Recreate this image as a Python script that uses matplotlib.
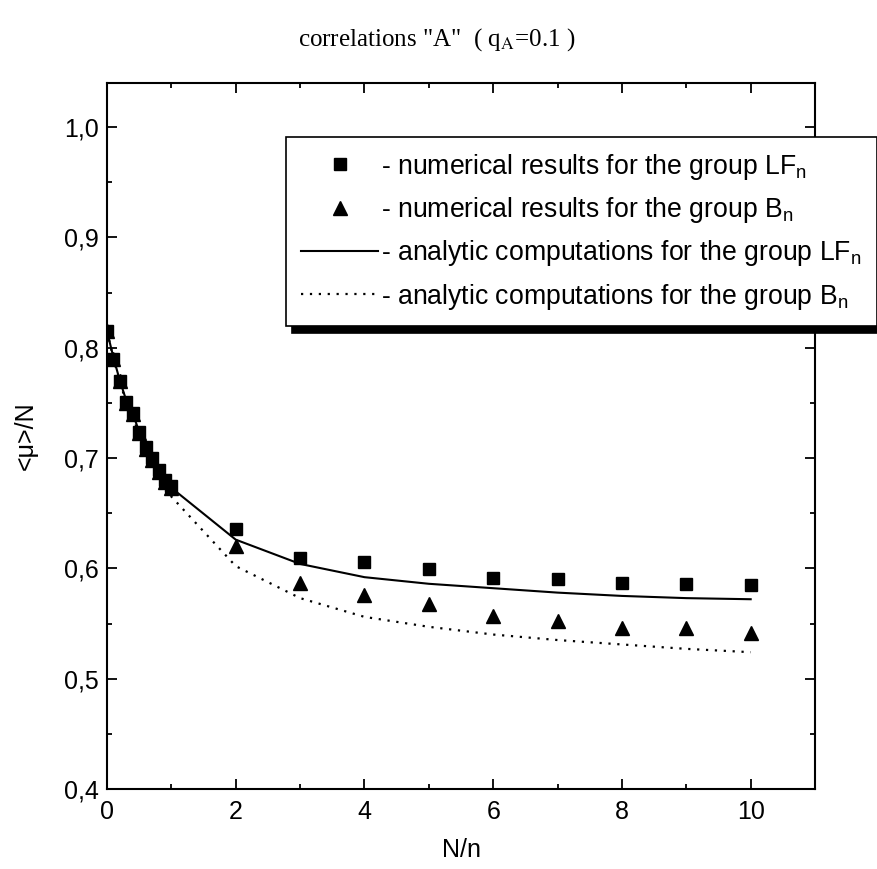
import matplotlib
matplotlib.use("Agg")
import matplotlib.pyplot as plt
from matplotlib.ticker import MultipleLocator, FuncFormatter

# ---- data ----
x_pts = [0, 0.1, 0.2, 0.3, 0.4, 0.5, 0.6, 0.7, 0.8, 0.9, 1.0, 2, 3, 4, 5, 6, 7, 8, 9, 10]
lf_num = [0.815, 0.790, 0.770, 0.751, 0.741, 0.724, 0.710, 0.700, 0.689, 0.680, 0.675,
          0.636, 0.609, 0.606, 0.599, 0.591, 0.590, 0.587, 0.586, 0.585]
b_num = [0.815, 0.790, 0.770, 0.750, 0.740, 0.723, 0.708, 0.698, 0.687, 0.678, 0.673,
         0.620, 0.587, 0.576, 0.568, 0.557, 0.552, 0.546, 0.546, 0.541]
lf_an = [0.815, 0.791, 0.770, 0.752, 0.740, 0.724, 0.710, 0.699, 0.689, 0.680, 0.673,
         0.626, 0.604, 0.592, 0.586, 0.582, 0.578, 0.575, 0.573, 0.572]
b_an = [0.815, 0.790, 0.769, 0.750, 0.738, 0.721, 0.706, 0.695, 0.684, 0.674, 0.665,
        0.602, 0.573, 0.556, 0.547, 0.540, 0.535, 0.531, 0.527, 0.524]

title = 'correlations "A"  ( q$_\\mathrm{A}$=0.1 )'
labels = ["- numerical results for the group LF$_\\mathrm{n}$",
          "- numerical results for the group B$_\\mathrm{n}$",
          "- analytic computations for the group LF$_\\mathrm{n}$",
          "- analytic computations for the group B$_\\mathrm{n}$"]

plt.rcParams['font.family'] = ['Liberation Sans', 'DejaVu Sans']
plt.rcParams['mathtext.fontset'] = 'custom'
plt.rcParams['mathtext.rm'] = 'Liberation Sans'
plt.rcParams['mathtext.it'] = 'Liberation Sans'

fig = plt.figure(figsize=(8.78, 8.69), dpi=100)
ax = fig.add_axes([0.1219, 0.0921, 0.8064, 0.8124])

h1, = ax.plot(x_pts, lf_num, 's', color='black', markersize=9, linestyle='none', zorder=3)
h2, = ax.plot(x_pts, b_num, '^', color='black', markersize=10, linestyle='none', zorder=3)
h3, = ax.plot(x_pts, lf_an, '-', color='black', linewidth=1.5)
h4, = ax.plot(x_pts, b_an, color='black', linewidth=1.6, linestyle=(0, (1, 3)))

ax.set_xlim(0, 11)
ax.set_ylim(0.4, 1.04)
ax.xaxis.set_major_locator(MultipleLocator(2))
ax.xaxis.set_minor_locator(MultipleLocator(1))
ax.yaxis.set_major_locator(MultipleLocator(0.1))
ax.yaxis.set_minor_locator(MultipleLocator(0.05))
ax.yaxis.set_major_formatter(FuncFormatter(lambda v, p: f"{v:.1f}".replace('.', ',')))
ax.tick_params(which='both', direction='in', top=True, right=True, labelsize=18, width=1.3)
ax.tick_params(which='major', length=7)
ax.tick_params(axis='x', which='major', pad=8)
ax.tick_params(axis='y', which='major', pad=6)
ax.tick_params(which='minor', length=3.5)
for s in ax.spines.values():
    s.set_linewidth(1.5)

ax.set_xlabel("N/n", fontsize=18, labelpad=10)
ax.set_ylabel("<\u03bc>/N", fontsize=18, labelpad=19)

fig.text(0.497, 0.954, title, ha='center', va='center', fontsize=18,
         family=['Liberation Serif', 'DejaVu Serif'], math_fontfamily='stix')

leg = fig.legend([h1, h2, h3, h4], labels, loc='upper left',
                 bbox_to_anchor=(0.326, 0.8423), fontsize=19.2, frameon=True,
                 fancybox=False, edgecolor='black', handlelength=2.9,
                 handletextpad=0.12, labelspacing=0.5, borderpad=0.55,
                 borderaxespad=0,
                 shadow={'color': 'black', 'alpha': 1, 'ox': 4, 'oy': -5})
leg.get_frame().set_linewidth(1.2)

fig.savefig("out.png", dpi=100)
